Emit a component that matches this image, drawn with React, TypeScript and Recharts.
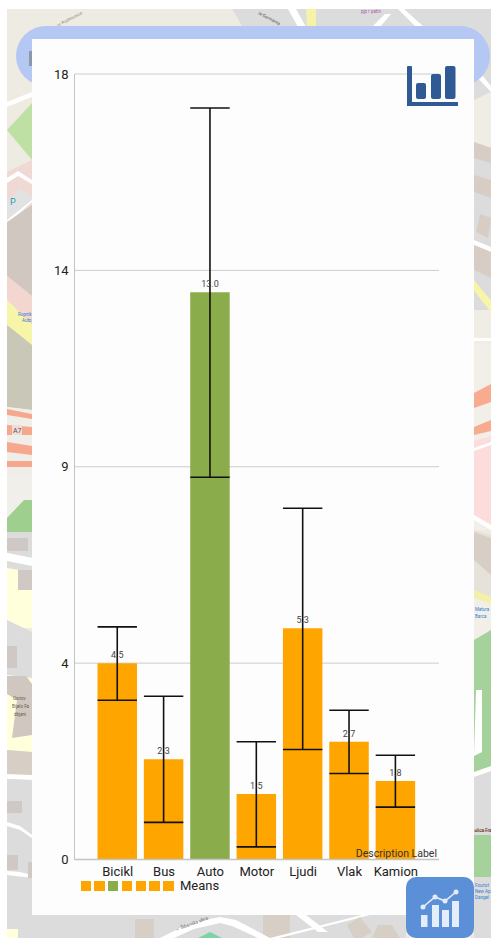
import React from 'react';
import { BarChart, Bar, Cell, XAxis, YAxis, CartesianGrid, ErrorBar, LabelList, Legend } from 'recharts';

const categories = ['Bicikl', 'Bus', 'Auto', 'Motor', 'Ljudi', 'Vlak', 'Kamion'];
const means = [4.5, 2.3, 13.0, 1.5, 5.3, 2.7, 1.8];
const errorHigh = [5.33, 3.74, 17.22, 2.7, 8.05, 3.42, 2.39];
const errorLow = [3.65, 0.85, 8.76, 0.29, 2.52, 1.97, 1.2];
const barColors = ['#ffa500', '#ffa500', '#8bac4a', '#ffa500', '#ffa500', '#ffa500', '#ffa500'];
const yTicks = [0, 4.5, 9, 13.5, 18];
const yTickLabels = ['0', '4', '9', '14', '18'];

const chartData = categories.map((name, i) => ({
  name,
  mean: means[i],
  error: [means[i] - errorLow[i], errorHigh[i] - means[i]],
}));

const FONT = 'Roboto, sans-serif';

// backdrop map, only the strips around the card show
const mapPolys: [string, string][] = [
  // top strip
  ['232,9 491,9 491,40 250,40', '#dcdcdc'],
  ['7,9 232,9 250,40 7,40', '#eeebe2'],
  ['306,9 316,9 316,27 307,27', '#f6f3a6'],
  ['288,9 296,9 306,27 298,27', '#ffffff'],
  ['372,27 385,14 391,14 380,27', '#ffffff'],
  ['398,9 404,9 424,27 416,27', '#ffffff'],
  // left strip
  ['7,40 32,40 32,165 7,175', '#eeebe2'],
  ['7,130 32,103 32,160', '#bfe0a5'],
  ['7,102 32,92 32,97 7,107', '#ffffff'],
  ['7,172 32,160 32,215 7,232', '#f0d8d4'],
  ['7,178 18,171 32,180 32,184 18,176 7,183', '#ffffff'],
  ['7,202 20,188 32,197 32,203 7,222', '#e2e2e2'],
  ['7,220 32,200 32,202 7,224', '#ffffff'],
  ['7,222 32,205 32,296 7,276', '#cfc7c0'],
  ['7,276 32,296 32,325 7,300', '#f3d6cf'],
  ['7,300 32,325 32,345 7,325', '#f7f5a8'],
  ['7,325 32,345 32,410 7,407', '#c9c8b8'],
  ['7,407 32,410 32,475 7,475', '#f0eee8'],
  ['7,409 32,414 32,419 7,415', '#f5a88e'],
  ['7,425 32,427 32,435 7,435', '#f5a88e'],
  ['7,442 32,446 32,455 7,452', '#f5a88e'],
  ['7,461 32,461 32,467 7,467', '#f5a88e'],
  ['7,475 32,475 32,532 7,532', '#f1efe9'],
  ['7,518 24,500 32,500 32,532 7,532', '#9fcf8e'],
  ['7,532 32,532 32,628 7,628', '#ffffdc'],
  ['7,532 32,532 32,558 7,553', '#dcdcdc'],
  ['7,538 28,538 28,551 7,551', '#cfc8c4'],
  ['7,553 32,558 32,566 7,561', '#ffffff'],
  ['7,561 32,566 32,572 7,568', '#dcdcdc'],
  ['18,570 32,570 32,590 18,590', '#cfc8c4'],
  ['7,620 32,632 32,640 7,628', '#dcdcdc'],
  ['7,628 32,640 32,678 7,675', '#dcdcdc'],
  ['7,646 17,646 17,668 7,668', '#cfc8c4'],
  ['7,675 32,678 32,752 7,750', '#ffffdc'],
  ['7,676 26,676 32,684 32,735 12,738 17,700 7,694', '#cfc7c0'],
  ['7,750 32,752 32,775 7,775', '#d7cec6'],
  ['7,774 32,775 32,780 7,779', '#ffffff'],
  ['7,779 32,780 32,938 7,938', '#dcdcdc'],
  ['7,801 22,801 22,813 7,813', '#cfc8c4'],
  ['7,822 20,826 32,835 32,838 20,830 7,826', '#ffffff'],
  ['7,855 18,855 18,870 7,870', '#cfc8c4'],
  ['7,871 20,872 32,875 32,878 7,875', '#ffffff'],
  ['28,862 32,862 32,878 28,878', '#cfc8c4'],
  ['7,929 18,929 18,938 7,938', '#ffffdc'],
  // right strip
  ['474,40 491,40 491,345 474,345', '#dcdcdc'],
  ['478,70 491,86 491,92 474,74', '#ffffff'],
  ['474,100 491,92 491,148 474,142', '#f0eee4'],
  ['474,142 491,148 491,163 474,158', '#d8cdc5'],
  ['474,175 491,180 491,198 474,192', '#d8cdc5'],
  ['480,214 491,218 488,238 476,232', '#d8cdc5'],
  ['474,240 491,247 491,252 474,245', '#ffffff'],
  ['474,245 491,252 491,278 474,270', '#d8cdc5'],
  ['474,280 482,290 491,300 491,312 478,296 474,290', '#f7f5a8'],
  ['474,310 491,310 491,345 474,345', '#f0eee4'],
  ['474,338 491,338 491,341 474,341', '#ffffff'],
  ['474,345 491,345 491,530 474,530', '#f1efe8'],
  ['474,393 491,384 491,402 474,408', '#f8ab8e'],
  ['474,427 491,420 491,431 474,435', '#f8ab8e'],
  ['474,441 491,436 491,525 474,515', '#fddcdc'],
  ['474,448 491,442 491,445 474,451', '#ffffff'],
  ['474,515 491,525 491,530 474,520', '#ffffff'],
  ['474,530 491,535 491,600 474,590', '#e6e2da'],
  ['474,532 491,538 491,575 474,560', '#d7cec6'],
  ['474,590 491,597 491,604 474,598', '#f3f1a8'],
  ['474,598 491,604 491,640 474,640', '#f1efe8'],
  ['474,640 491,630 491,770 474,775', '#a5d29a'],
  ['474,775 491,768 491,835 474,835', '#dcdcdc'],
  ['474,835 491,835 491,938 474,938', '#a5d29a'],
  ['474,877 491,877 491,938 474,938', '#dcdcdc'],
  ['474,830 491,830 491,832 474,832', '#e7b3a4'],
  ['474,772 491,766 491,771 474,777', '#ffffff'],
  ['476,690 482,690 482,752 474,756', '#ffffff'],
  // bottom strip
  ['32,915 406,915 406,938 32,938', '#dcdcdc'],
  ['135,919 154,919 154,938 135,938', '#d7cec6'],
  ['263,915 290,915 290,938 263,938', '#d7cec6'],
  ['198,938 210,932 222,938', '#7fd1a8'],
  ['160,938 190,923 220,917 236,920 270,938 258,938 232,926 220,923 194,929 174,938', '#ffffff'],
  ['296,915 306,915 328,932 318,932', '#ffffff'],
  ['270,938 362,915 370,915 280,938', '#ffffff'],
  ['347,925 360,917 372,932 362,938 354,938', '#d7cec6'],
  ['378,925 392,925 400,938 372,938', '#d7cec6'],
];

function MapBackdrop() {
  return (
    <svg width={491} height={938} style={{ position: 'absolute', left: 0, top: 0 }}>
      <rect x={7} y={9} width={484} height={929} fill="#eeebe2" />
      {mapPolys.map(([points, fill], i) => (
        <polygon key={i} points={points} fill={fill} />
      ))}
      <g fontFamily={FONT} fontSize={4.5}>
        <text x={10} y={205} fontSize={9} fill="#1f9bb0">P</text>
        <rect x={12} y={425} width={10} height={10} fill="#f3dcd6" />
        <text x={13} y={433} fontSize={7} fill="#555">A7</text>
        <text x={18} y={316} fill="#2f7fd0">Rupnik</text>
        <text x={22} y={322} fill="#2f7fd0">Auto</text>
        <text x={13} y={700} fill="#6b5b45">Osnov</text>
        <text x={12} y={708} fill="#6b5b45">Bijelo Fa</text>
        <text x={14} y={716} fill="#6b5b45">dbjeni</text>
        <text x={475} y={611} fill="#2f7fd0">Metura</text>
        <text x={475} y={618} fill="#2f7fd0">Barca</text>
        <text x={474.5} y={832} fill="#333">ulica Fra</text>
        <text x={475} y={887} fill="#2f7fd0">Fourist</text>
        <text x={475} y={893} fill="#2f7fd0">New Ap</text>
        <text x={475} y={899} fill="#2f7fd0">Dangel</text>
        <text x={361} y={13} fill="#a85aa8">pjp r patin</text>
        <text x={258} y={14} fill="#555" transform="rotate(28 258 14)">ia Germania</text>
        <text x={58} y={27} fill="#8a7f70" transform="rotate(-28 58 27)">or Podmunice</text>
        <text x={176} y={931} fill="#555" transform="rotate(-20 176 931)">← Šibenska ulica</text>
      </g>
    </svg>
  );
}

function TopRightIcon() {
  const bars: [number, number, number][] = [[416, 83, 10], [431, 74, 10], [445, 66, 10.5]];
  return (
    <svg width={491} height={938} style={{ position: 'absolute', left: 0, top: 0, pointerEvents: 'none' }}>
      <rect x={407} y={66} width={5} height={40} rx={1} fill="#2f5a94" />
      <rect x={407} y={102} width={51} height={4} fill="#2f5a94" />
      {bars.map(([x, y, w]) => (
        <rect key={x} x={x} y={y} width={w} height={99 - y} rx={2} fill="#2f5a94" />
      ))}
    </svg>
  );
}

function CornerButton() {
  const pts = '423,907 435,897 445,901 456,892';
  return (
    <div style={{ position: 'absolute', left: 406, top: 877, width: 68, height: 61, background: '#5b8fd8', borderRadius: 10 }}>
      <svg width={68} height={61} viewBox="406 877 68 61">
        <rect x={421} y={915} width={6.5} height={12} fill="#e4eefb" />
        <rect x={432} y={905} width={7} height={22} fill="#e4eefb" />
        <rect x={442} y={910} width={7} height={17} fill="#e4eefb" />
        <rect x={452} y={901} width={7} height={26} fill="#e4eefb" />
        <polyline points={pts} fill="none" stroke="#e4eefb" strokeWidth={1.6} />
        {pts.split(' ').map((p) => {
          const [cx, cy] = p.split(',');
          return <circle key={p} cx={cx} cy={cy} r={2.5} fill="#e4eefb" />;
        })}
      </svg>
    </div>
  );
}

function MeansLegend() {
  return (
    <div style={{ display: 'flex', alignItems: 'center', fontFamily: FONT, fontSize: 13, color: '#222', lineHeight: '14px' }}>
      {barColors.map((c, i) => (
        <span key={i} style={{ display: 'block', width: 10.4, height: 10.4, marginRight: 3.4, background: c }} />
      ))}
      <span style={{ marginLeft: 3 }}>Means</span>
    </div>
  );
}

export default function App() {
  return (
    <div style={{ position: 'absolute', left: 0, top: 0, width: 491, height: 938, background: '#fff', overflow: 'hidden' }}>
      <MapBackdrop />
      {/* blue header pill behind the card */}
      <div style={{ position: 'absolute', left: 16, top: 26, width: 474, height: 60, borderRadius: 30, background: '#b4c8f3' }} />
      <div style={{ position: 'absolute', left: 29, top: 51, width: 3, height: 15, background: '#8c97ab' }} />
      <div style={{ position: 'absolute', left: 32, top: 39, width: 442, height: 876, background: '#fdfdfd' }} />
      <div style={{ position: 'absolute', left: 0, top: 0 }}>
        <BarChart
          width={491}
          height={938}
          data={chartData}
          margin={{ top: 74, right: 52, bottom: 48.5, left: 0 }}
          barSize={39.5}
        >
          <CartesianGrid horizontal vertical={false} stroke="#cccccc" strokeWidth={1} />
          <XAxis
            dataKey="name"
            type="category"
            interval={0}
            height={30}
            padding={{ left: 20, right: 20 }}
            tickLine={false}
            tickSize={0}
            tickMargin={7}
            axisLine={{ stroke: '#c4c4c4', strokeWidth: 1.5 }}
            tick={{ fontSize: 13, fontFamily: FONT, fill: '#222' }}
          />
          <YAxis
            width={74.5}
            domain={[0, 18]}
            ticks={yTicks}
            interval={0}
            tickLine={false}
            tickSize={0}
            tickMargin={6}
            tickFormatter={(v: number) => yTickLabels[yTicks.indexOf(v)]}
            axisLine={{ stroke: '#c4c4c4', strokeWidth: 1 }}
            tick={{ fontSize: 13, fontFamily: FONT, fill: '#222' }}
          />
          <Legend
            layout="vertical"
            align="center"
            verticalAlign="middle"
            content={<MeansLegend />}
            wrapperStyle={{ left: 80.5, top: 879, width: 160 }}
          />
          <Bar dataKey="mean" isAnimationActive={false}>
            {chartData.map((d, i) => (
              <Cell key={d.name} fill={barColors[i]} />
            ))}
            <LabelList
              dataKey="mean"
              position="top"
              offset={5}
              formatter={(v: number) => v.toFixed(1)}
              style={{ fontSize: 9, fontFamily: FONT, fill: '#444' }}
            />
            <ErrorBar dataKey="error" width={19.7} stroke="#111111" strokeWidth={1.6} />
          </Bar>
        </BarChart>
      </div>
      <TopRightIcon />
      <div style={{ position: 'absolute', right: 54, top: 847, fontFamily: FONT, fontSize: 10.5, color: '#333', lineHeight: '14px' }}>
        Description Label
      </div>
      <CornerButton />
    </div>
  );
}
